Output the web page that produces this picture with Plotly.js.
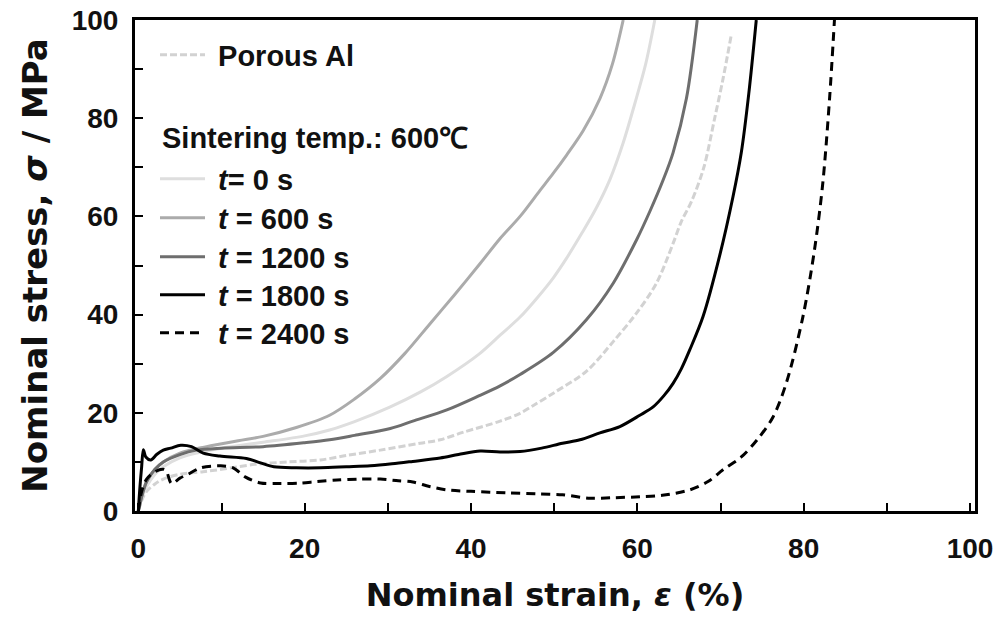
<!DOCTYPE html>
<html>
<head>
<meta charset="utf-8">
<script src="https://cdn.plot.ly/plotly-3.0.1.min.js"></script>
<style>html,body{margin:0;padding:0;background:#fff;}#chart{width:1001px;height:626px;}</style>
</head>
<body>
<div id="chart"></div>
<script>
// ---- data (strain %, stress MPa) ----
const porousX = [0, 0.5, 1, 2, 3, 5, 7.8, 10, 14, 18, 21.9, 25, 29.1, 33.9, 36.3, 39, 43.5, 45.9, 47.5, 49.9, 53.9, 57.1, 59.9, 62.3, 64.3, 65.3, 66.5, 68, 69.3, 70.3, 71.3];
const porousY = [0, 2.5, 4, 5.5, 6.5, 7.5, 8.0, 8.5, 9.5, 10, 10.4, 11.3, 12.4, 13.8, 14.5, 16.0, 18.3, 19.9, 21.5, 24, 28.5, 34.5, 40.3, 46.4, 54.5, 59, 63, 70, 80, 88, 97];

const t0X = [0, 0.5, 1, 2, 3, 5, 7, 10, 15, 20, 23, 26, 30.3, 34, 37.1, 41, 43.5, 45.9, 48, 49.9, 51.5, 53.3, 55, 56.7, 58.3, 59.7, 61, 62.1];
const t0Y = [0, 3, 5, 7.5, 9, 10.8, 11.8, 12.8, 14.0, 15.3, 16.5, 18.2, 21.2, 24.3, 27.4, 32, 35.8, 39.5, 43.5, 47.5, 51.5, 56.5, 61.5, 67.5, 75, 83, 91, 100];

const t600X = [0, 0.5, 1, 2, 3, 5, 8.2, 12, 15, 19, 23, 26, 29.1, 32, 35.1, 38, 41.1, 43.5, 45.9, 48.3, 49.9, 51.5, 53.5, 55.5, 57, 58.3];
const t600Y = [0, 3.5, 6, 8.5, 10, 11.8, 13.1, 14.3, 15.2, 17, 19.5, 22.8, 27, 32, 38.2, 44, 50.4, 55.5, 60, 65.3, 68.8, 72.5, 77.5, 84, 91, 100];

const t1200X = [0, 0.5, 1, 2, 3, 5, 7, 10, 15, 20, 23, 26, 30.3, 33, 37.1, 41, 43.5, 45.9, 49.9, 53.9, 57.1, 59.9, 61.5, 63.1, 64.3, 65.9, 67.2];
const t1200Y = [0, 3.5, 6, 8.5, 10, 11.5, 12.4, 12.8, 13.1, 13.9, 14.5, 15.4, 16.8, 18.3, 20.6, 23.5, 25.5, 27.8, 32.3, 39, 46.4, 55.2, 61, 67.4, 73, 84, 100];

const t1800X = [0, 0.2, 0.4, 0.6, 0.9, 1.5, 2.2, 3, 3.9, 5.1, 6.4, 7.8, 9.8, 13, 14.7, 16.3, 19, 21.9, 25, 27.9, 30.5, 33, 36.3, 38.5, 41.1, 43.5, 45.9, 48.5, 51, 53.1, 55.5, 57.9, 60.3, 61.9, 63.2, 64.3, 65.3, 66.3, 67.9, 69.9, 71.5, 72.5, 73.4, 74.3];
const t1800Y = [0, 5, 9, 12.5, 11, 10.4, 11.5, 12.4, 12.8, 13.4, 13.1, 11.8, 11.2, 10.7, 9.8, 9.0, 8.8, 8.8, 9.0, 9.2, 9.6, 10.1, 10.8, 11.5, 12.2, 12.0, 12.1, 12.8, 13.8, 14.5, 15.9, 17.2, 19.5, 21.2, 23.5, 26, 29, 32.8, 39.6, 52, 64, 73, 85, 100];

const t2400X = [0, 0.4, 1, 2, 3, 3.4, 4, 5, 6, 7.5, 9.9, 11.4, 12.9, 14.7, 17, 19.5, 21.5, 23.9, 26.5, 29.1, 31, 33, 35, 37.1, 40, 44.3, 48, 51, 54.3, 57, 60.3, 63, 66.3, 68.5, 70.3, 72.5, 74.4, 76.3, 77.9, 79.9, 81.3, 82.3, 83.1, 83.7];
const t2400Y = [0, 4, 6.5, 8, 8.5, 8.0, 5.6, 6.7, 7.5, 8.8, 9.2, 8.8, 6.9, 5.7, 5.6, 5.7, 6.0, 6.3, 6.5, 6.5, 6.2, 5.9, 5.0, 4.3, 4.0, 3.7, 3.5, 3.3, 2.6, 2.7, 2.9, 3.2, 4.3, 6, 8.4, 11, 14.5, 19.1, 26, 39.5, 53.2, 66.8, 83.7, 100];

const xTicks = [0, 20, 40, 60, 80, 100];
const yTicks = [0, 20, 40, 60, 80, 100];

const seriesNames = ['Porous Al', '<i>t</i>= 0 s', '<i>t</i> = 600 s', '<i>t</i> = 1200 s', '<i>t</i> = 1800 s', '<i>t</i> = 2400 s'];
const annotationText = 'Sintering temp.: 600℃';
const xTitle = 'Nominal strain, <i>ε</i> (%)';
const yTitle = 'Nominal stress, <i>σ</i> / MPa';

// ---- layout geometry ----
const W = 1001, H = 626;
const M = {l: 135, r: 26, t: 20, b: 115};
const PW = W - M.l - M.r, PH = H - M.t - M.b;
const px2paperX = px => (px - M.l) / PW;
const py2paperY = py => (H - M.b - py) / PH;

const FONT = 'Liberation Sans, Arial, Helvetica, sans-serif';
const WIDE = 'DejaVu Sans, Liberation Sans, sans-serif';
const legendFont = {family: FONT, size: 29, color: '#111', weight: 'bold'};

function mkLegend(pyCenter) {
  return {
    x: px2paperX(155), y: py2paperY(pyCenter), xanchor: 'left', yanchor: 'middle',
    bgcolor: 'rgba(0,0,0,0)', borderwidth: 0, font: legendFont, itemwidth: 45
  };
}

const traces = [
  {x: porousX, y: porousY, name: seriesNames[0], legend: 'legend',
   line: {color: '#d2d2d2', width: 3, dash: '7px,3px'}},
  {x: t0X, y: t0Y, name: seriesNames[1], legend: 'legend2',
   line: {color: '#dedede', width: 3}},
  {x: t600X, y: t600Y, name: seriesNames[2], legend: 'legend3',
   line: {color: '#ababab', width: 3}},
  {x: t1200X, y: t1200Y, name: seriesNames[3], legend: 'legend4',
   line: {color: '#6e6e6e', width: 3}},
  {x: t1800X, y: t1800Y, name: seriesNames[4], legend: 'legend5',
   line: {color: '#000000', width: 3}},
  {x: t2400X, y: t2400Y, name: seriesNames[5], legend: 'legend6',
   line: {color: '#000000', width: 3, dash: '9px,6px'}}
].map(t => {
  t.line.shape = 'spline';
  t.line.smoothing = 0.9;
  t.name = '\u00a0' + t.name;
  return Object.assign({type: 'scatter', mode: 'lines', hoverinfo: 'skip'}, t);
});

const axisCommon = {
  showline: true, linewidth: 3, linecolor: '#000', mirror: true,
  showgrid: false, zeroline: false,
  ticks: 'inside', ticklen: 8, tickwidth: 2, tickcolor: '#000',
  tickfont: {family: FONT, size: 28, color: '#111', weight: 'bold'},
  minor: {ticks: 'inside', ticklen: 8, tickwidth: 2, tickcolor: '#000', dtick: 10},
  fixedrange: true
};

const layout = {
  width: W, height: H,
  margin: M,
  paper_bgcolor: '#fff', plot_bgcolor: '#fff',
  showlegend: true,
  xaxis: Object.assign({}, axisCommon, {
    range: [-0.4, 100.6], tickmode: 'array', tickvals: xTicks, ticktext: xTicks.map(String),
    ticklabelstandoff: 10,
    title: {text: xTitle, font: {family: WIDE, size: 32, color: '#111', weight: 'bold'}, standoff: 22}
  }),
  yaxis: Object.assign({}, axisCommon, {
    range: [0, 100], tickmode: 'array', tickvals: yTicks, ticktext: yTicks.map(String),
    ticklabelstandoff: 8,
    title: {text: yTitle, font: {family: WIDE, size: 34, color: '#111', weight: 'bold'}, standoff: 14}
  }),
  legend: mkLegend(55),
  legend2: mkLegend(179),
  legend3: mkLegend(218),
  legend4: mkLegend(257),
  legend5: mkLegend(295),
  legend6: mkLegend(333),
  annotations: [{
    text: annotationText, xref: 'paper', yref: 'paper',
    x: px2paperX(160), y: py2paperY(138), xanchor: 'left', yanchor: 'middle',
    showarrow: false, font: {family: FONT, size: 29, color: '#111', weight: 'bold'}
  }]
};

Plotly.newPlot('chart', traces, layout, {displayModeBar: false, staticPlot: true});
</script>
</body>
</html>
